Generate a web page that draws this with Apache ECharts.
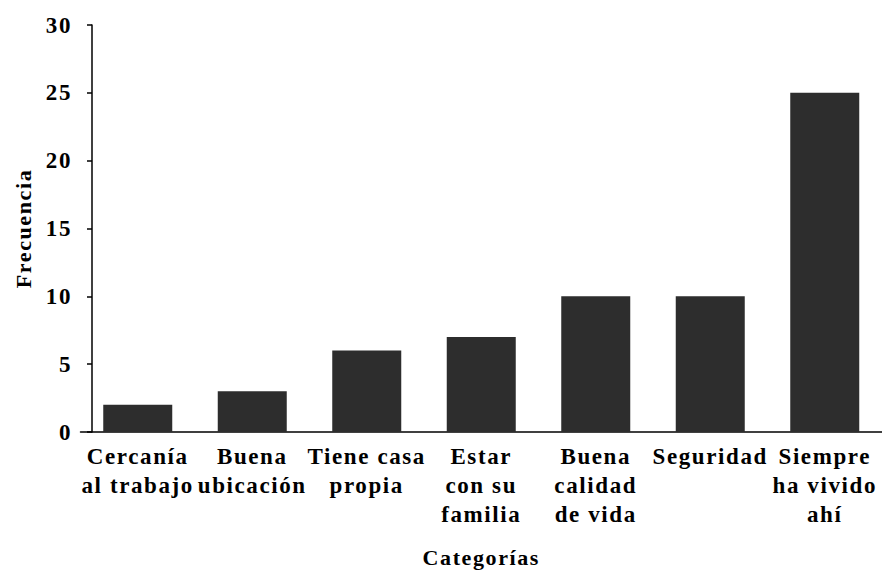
<!DOCTYPE html>
<html>
<head>
<meta charset="utf-8">
<script src="https://cdn.jsdelivr.net/npm/echarts@6/dist/echarts.min.js"></script>
<style>html,body{margin:0;padding:0;background:#fff;}#c{width:882px;height:573px;}#c text{letter-spacing:1.6px;}</style>
</head>
<body>
<div id="c"></div>
<script>
const categories = ["Cercanía\nal trabajo", "Buena\nubicación", "Tiene casa\npropia", "Estar\ncon su\nfamilia", "Buena\ncalidad\nde vida", "Seguridad", "Siempre\nha vivido\nahí"];
const frecuencia = [2, 3, 6, 7, 10, 10, 25];
const yTicks = [0, 5, 10, 15, 20, 25, 30];

const font = "Liberation Serif";
const chart = echarts.init(document.getElementById('c'), null, { renderer: 'svg' });
chart.setOption({
  animation: false,
  backgroundColor: '#fff',
  grid: { left: 80.5, top: 25, width: 806.5, bottom: 134, containLabel: false },
  xAxis: {
    type: 'category',
    data: categories,
    name: 'Categorías',
    nameLocation: 'middle',
    nameGap: 114,
    nameTextStyle: { fontFamily: font, fontWeight: 'bold', fontSize: 22, color: '#000' },
    axisLine: { lineStyle: { color: '#000', width: 1.5 } },
    axisTick: { alignWithLabel: true, length: 5, lineStyle: { color: '#000', width: 1.5 } },
    axisLabel: { interval: 0, margin: 10, fontFamily: font, fontWeight: 'bold', fontSize: 23, lineHeight: 29, color: '#000' }
  },
  yAxis: {
    type: 'value',
    min: yTicks[0],
    max: yTicks[yTicks.length - 1],
    interval: 5,
    offset: -11.5,
    name: 'Frecuencia',
    nameLocation: 'middle',
    nameGap: 58,
    nameRotate: 90,
    nameTextStyle: { fontFamily: font, fontWeight: 'bold', fontSize: 22, color: '#000' },
    axisLine: { show: true, lineStyle: { color: '#000', width: 1.5 } },
    axisTick: { show: true, length: 5, lineStyle: { color: '#000', width: 1.5 } },
    splitLine: { show: false },
    axisLabel: { margin: 20, fontFamily: font, fontWeight: 'bold', fontSize: 23, color: '#000' }
  },
  series: [{
    type: 'bar',
    data: frecuencia,
    barWidth: 69,
    itemStyle: { color: '#2d2d2d' }
  }]
});
</script>
</body>
</html>
